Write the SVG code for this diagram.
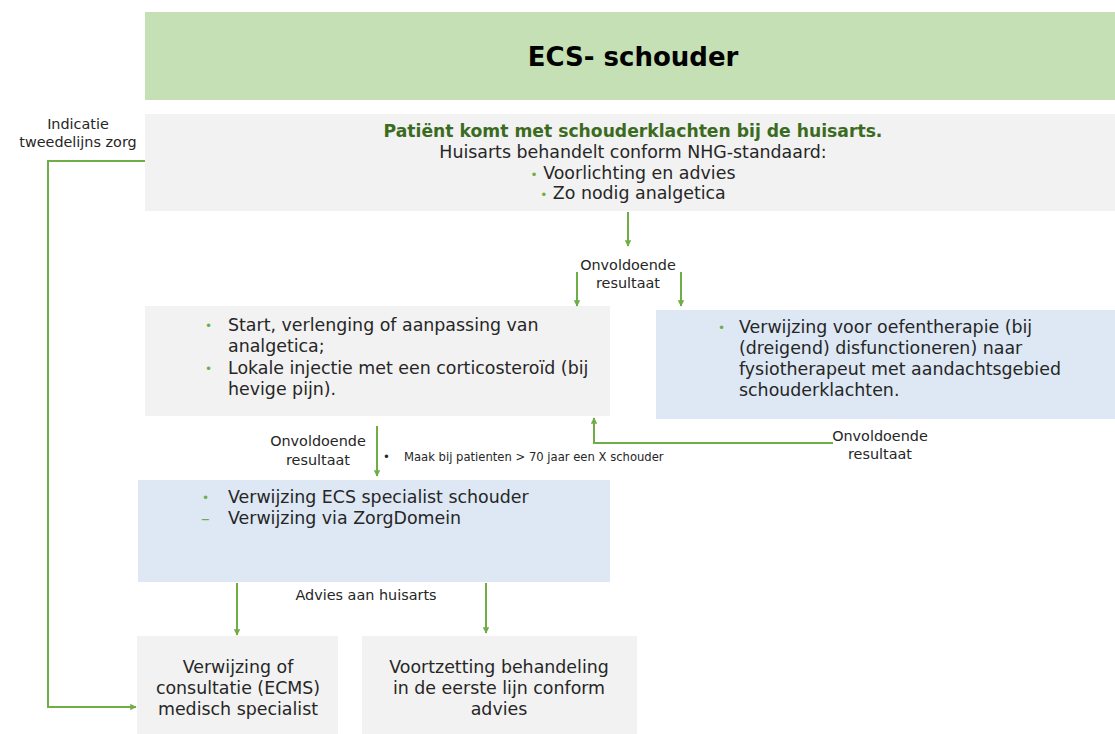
<svg xmlns="http://www.w3.org/2000/svg" width="1115" height="734" viewBox="0 0 1115 734">
<defs>
<marker id="ah" viewBox="0 0 10 10" refX="9" refY="5" markerWidth="3.2" markerHeight="3.2" orient="auto"><path d="M0,0 L10,5 L0,10 z" fill="#70ad47"/></marker>
<style>
text{font-family:"DejaVu Sans",Verdana,sans-serif;fill:#262626}
.m{font-size:17.4px}
.s{font-size:14.4px}
.xs{font-size:11.6px}
.c{text-anchor:middle}
.b{fill:#70ad47}
.g{fill:#f2f2f2}
.bl{fill:#dde8f4}
.ln{fill:none;stroke:#70ad47;stroke-width:2;marker-end:url(#ah)}
</style>
</defs>
<rect width="1115" height="734" fill="#ffffff"/>
<g id="title"><rect x="145" y="12" width="970" height="88" fill="#c5e0b4"/><text x="633" y="66" class="c" style="font-size:26px;font-weight:bold;fill:#000">ECS- schouder</text></g>
<g id="n1"><rect x="145" y="114" width="970" height="97" class="g"/>
<text x="633" y="137" class="c" style="font-size:17.2px;font-weight:bold;fill:#3b6b1f">Patiënt komt met schouderklachten bij de huisarts.</text>
<text x="633" y="158" class="c m">Huisarts behandelt conform NHG-standaard:</text>
<text x="633" y="179" class="c m"><tspan class="b" style="font-size:12px">•</tspan>  Voorlichting en advies</text>
<text x="633" y="199" class="c m"><tspan class="b" style="font-size:12px">•</tspan>  Zo nodig analgetica</text></g>
<g id="n2"><rect x="145" y="306" width="465" height="110" class="g"/>
<text x="205" y="330" class="b" style="font-size:12px">•</text><text x="228" y="331" class="m">Start, verlenging of aanpassing van</text>
<text x="228" y="352" class="m">analgetica;</text>
<text x="205" y="373" class="b" style="font-size:12px">•</text><text x="228" y="374" class="m">Lokale injectie met een corticosteroïd (bij</text>
<text x="228" y="395" class="m">hevige pijn).</text></g>
<g id="n3"><rect x="656" y="310" width="459" height="109" class="bl"/>
<text x="718" y="332" class="b" style="font-size:12px">•</text><text x="739" y="333" class="m">Verwijzing voor oefentherapie (bij</text>
<text x="739" y="354" class="m">(dreigend) disfunctioneren) naar</text>
<text x="739" y="375" class="m">fysiotherapeut met aandachtsgebied</text>
<text x="739" y="396" class="m">schouderklachten.</text></g>
<g id="n4"><rect x="138" y="480" width="472" height="102" class="bl"/>
<text x="202" y="502" class="b" style="font-size:12px">•</text><text x="228" y="503" class="m">Verwijzing ECS specialist schouder</text>
<text x="201" y="524" class="m" style="fill:#70ad47">–</text><text x="228" y="524" class="m">Verwijzing via ZorgDomein</text></g>
<g id="n5"><rect x="137" y="636" width="201" height="98" class="g"/>
<text x="238" y="673" class="c m">Verwijzing of</text>
<text x="238" y="694" class="c m">consultatie (ECMS)</text>
<text x="238" y="715" class="c m">medisch specialist</text></g>
<g id="n6"><rect x="362" y="636" width="275" height="98" class="g"/>
<text x="499" y="673" class="c m">Voortzetting behandeling</text>
<text x="499" y="694" class="c m">in de eerste lijn conform</text>
<text x="499" y="715" class="c m">advies</text></g>
<g id="connectors">
<path class="ln" d="M628,212 V246"/>
<path class="ln" d="M577,272 V306"/>
<path class="ln" d="M681,272 V306"/>
<path class="ln" d="M833,443 H594 V418"/>
<path class="ln" d="M377,426 V476"/>
<path class="ln" d="M237,583 V635"/>
<path class="ln" d="M486,583 V633"/>
<path class="ln" d="M145,161 H48 V707 H136"/>
</g>
<g id="labels">
<text x="628" y="270" class="c s">Onvoldoende</text>
<text x="628" y="288" class="c s">resultaat</text>
<text x="880" y="441" class="c s">Onvoldoende</text>
<text x="880" y="459" class="c s">resultaat</text>
<text x="318" y="446" class="c s">Onvoldoende</text>
<text x="318" y="465" class="c s">resultaat</text>
<text x="383" y="461" class="xs">•</text><text x="404" y="461" class="xs">Maak bij patienten &gt; 70 jaar een X schouder</text>
<text x="366" y="600" class="c s">Advies aan huisarts</text>
<text x="78" y="129" class="c s">Indicatie</text>
<text x="78" y="147" class="c s">tweedelijns zorg</text>
</g>
</svg>
